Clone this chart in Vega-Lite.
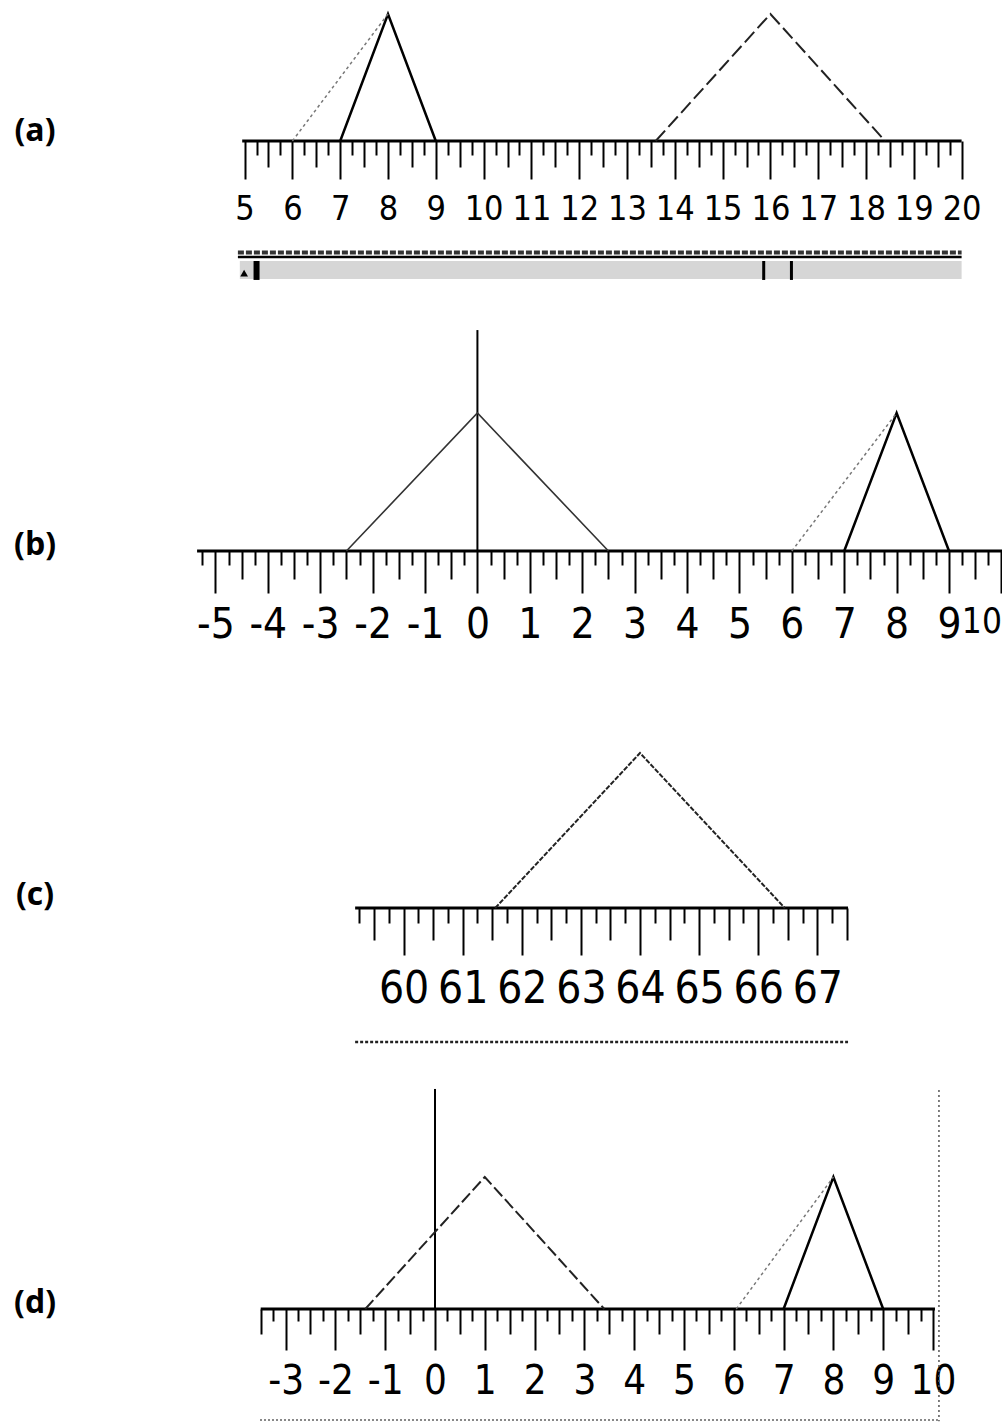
{
  "$schema": "https://vega.github.io/schema/vega-lite/v6.json",
  "padding": 0,
  "background": "white",
  "spacing": 0,
  "bounds": "flush",
  "config": {"view": {"stroke": null}, "axis": {"grid": false}},
  "resolve": {"scale": {"x": "independent", "y": "independent"}},
  "datasets": {
    "lines": [
      {"p": "a", "s": "solid", "x": 7, "y": 0}, {"p": "a", "s": "solid", "x": 8, "y": 1}, {"p": "a", "s": "solid", "x": 9, "y": 0},
      {"p": "a", "s": "dot", "x": 6, "y": 0}, {"p": "a", "s": "dot", "x": 8, "y": 1},
      {"p": "a", "s": "big", "x": 13.6, "y": 0}, {"p": "a", "s": "big", "x": 16, "y": 1}, {"p": "a", "s": "big", "x": 18.4, "y": 0},
      {"p": "b", "s": "big", "x": -2.5, "y": 0}, {"p": "b", "s": "big", "x": 0, "y": 1}, {"p": "b", "s": "big", "x": 2.5, "y": 0},
      {"p": "b", "s": "solid", "x": 7, "y": 0}, {"p": "b", "s": "solid", "x": 8, "y": 1}, {"p": "b", "s": "solid", "x": 9, "y": 0},
      {"p": "b", "s": "dot", "x": 6, "y": 0}, {"p": "b", "s": "dot", "x": 8, "y": 1},
      {"p": "c", "s": "big", "x": 61.55, "y": 0}, {"p": "c", "s": "big", "x": 64, "y": 1}, {"p": "c", "s": "big", "x": 66.45, "y": 0},
      {"p": "d", "s": "big", "x": -1.4, "y": 0}, {"p": "d", "s": "big", "x": 1, "y": 1}, {"p": "d", "s": "big", "x": 3.4, "y": 0},
      {"p": "d", "s": "solid", "x": 7, "y": 0}, {"p": "d", "s": "solid", "x": 8, "y": 1}, {"p": "d", "s": "solid", "x": 9, "y": 0},
      {"p": "d", "s": "dot", "x": 6.05, "y": 0}, {"p": "d", "s": "dot", "x": 8, "y": 1}
    ],
    "rulers": [
      {"p": "a", "x0": 4.95, "x1": 20.0, "label": "(a)"},
      {"p": "b", "x0": -5.35, "x1": 10.011, "label": "(b)"},
      {"p": "c", "x0": 59.18, "x1": 67.52, "label": "(c)"},
      {"p": "d", "x0": -3.5, "x1": 10.04, "label": "(d)"}
    ],
    "vlines": [
      {"p": "b", "x": 0, "y0": 0, "y1": 1.601},
      {"p": "d", "x": 0, "y0": 0, "y1": 1.667}
    ]
  },
  "vconcat": [
    {
      "width": 1002,
      "height": 141,
      "layer": [
        {
          "data": {"name": "rulers"},
          "transform": [{"filter": "datum.p === 'a'"}],
          "mark": {"type": "rule", "strokeWidth": 3, "color": "black"},
          "encoding": {
            "x": {"field": "x0", "type": "quantitative",
              "scale": {"domain": [-0.117, 20.845], "nice": false, "zero": false},
              "axis": {
                "values": [5,5.25,5.5,5.75,6,6.25,6.5,6.75,7,7.25,7.5,7.75,8,8.25,8.5,8.75,9,9.25,9.5,9.75,10,10.25,10.5,10.75,11,11.25,11.5,11.75,12,12.25,12.5,12.75,13,13.25,13.5,13.75,14,14.25,14.5,14.75,15,15.25,15.5,15.75,16,16.25,16.5,16.75,17,17.25,17.5,17.75,18,18.25,18.5,18.75,19,19.25,19.5,19.75,20],
                "tickCount": 1000,
                "domain": false, "title": null, "tickColor": "black", "tickWidth": 2,
                "tickSize": {"condition": [{"test": "datum.value % 1 === 0", "value": 38}, {"test": "datum.value % 0.5 === 0", "value": 26}], "value": 14},
                "labelExpr": "datum.value % 1 === 0 ? '' + datum.value : ''",
                "labelFont": "DejaVu Sans Condensed",
                "labelFontSize": 34, "labelColor": "black", "labelPadding": 13,
                "labelOverlap": false, "labelBound": false, "labelFlush": false
              }},
            "x2": {"field": "x1"},
            "y": {"datum": 0, "type": "quantitative", "scale": {"domain": [0, 1.1102], "nice": false, "zero": false}, "axis": null}
          }
        },
        {
          "data": {"name": "rulers"},
          "transform": [{"filter": "datum.p === 'a'"}],
          "mark": {"type": "rect", "color": "#d6d6d6"},
          "encoding": {"x": {"datum": 4.9, "type": "quantitative"}, "x2": {"datum": 20.0}, "y": {"datum": -0.945, "type": "quantitative"}, "y2": {"datum": -1.087}}
        },
        {
          "data": {"name": "lines"},
          "transform": [{"filter": "datum.p === 'a' && datum.s === 'solid'"}],
          "mark": {"type": "line", "color": "black", "strokeWidth": 2.5},
          "encoding": {"x": {"field": "x", "type": "quantitative"}, "y": {"field": "y", "type": "quantitative"}}
        },
        {
          "data": {"name": "lines"},
          "transform": [{"filter": "datum.p === 'a' && datum.s === 'dot'"}],
          "mark": {"type": "line", "color": "#777777", "strokeWidth": 1.5, "strokeDash": [3, 3]},
          "encoding": {"x": {"field": "x", "type": "quantitative"}, "y": {"field": "y", "type": "quantitative"}}
        },
        {
          "data": {"name": "lines"},
          "transform": [{"filter": "datum.p === 'a' && datum.s === 'big'"}],
          "mark": {"type": "line", "color": "#222222", "strokeWidth": 2, "strokeDash": [14, 5]},
          "encoding": {"x": {"field": "x", "type": "quantitative"}, "y": {"field": "y", "type": "quantitative"}}
        },
        {
          "data": {"name": "rulers"},
          "transform": [{"filter": "datum.p === 'a'"}],
          "mark": {"type": "text", "font": "Open Sans", "fontWeight": "bold", "fontSize": 32, "color": "black", "align": "center", "baseline": "middle"},
          "encoding": {"x": {"datum": 0.615, "type": "quantitative"}, "y": {"datum": 0.079, "type": "quantitative"}, "text": {"field": "label"}}
        },
        {
          "data": {"name": "rulers"},
          "transform": [{"filter": "datum.p === 'a'"}],
          "mark": {"type": "rule", "color": "#333333", "strokeWidth": 4, "strokeDash": [6, 2]},
          "encoding": {"x": {"datum": 4.86, "type": "quantitative"}, "x2": {"datum": 20.0}, "y": {"datum": -0.878, "type": "quantitative"}}
        },
        {
          "data": {"name": "rulers"},
          "transform": [{"filter": "datum.p === 'a'"}],
          "mark": {"type": "rule", "color": "black", "strokeWidth": 2.5},
          "encoding": {"x": {"datum": 4.86, "type": "quantitative"}, "x2": {"datum": 20.0}, "y": {"datum": -0.913, "type": "quantitative"}}
        },
        {
          "data": {"name": "rulers"},
          "transform": [{"filter": "datum.p === 'a'"}],
          "mark": {"type": "rule", "color": "black", "strokeWidth": 6},
          "encoding": {"x": {"datum": 5.25, "type": "quantitative"}, "y": {"datum": -0.945, "type": "quantitative"}, "y2": {"datum": -1.094}}
        },
        {
          "data": {"name": "rulers"},
          "transform": [{"filter": "datum.p === 'a'"}],
          "mark": {"type": "rule", "color": "black", "strokeWidth": 3},
          "encoding": {"x": {"datum": 15.86, "type": "quantitative"}, "y": {"datum": -0.945, "type": "quantitative"}, "y2": {"datum": -1.094}}
        },
        {
          "data": {"name": "rulers"},
          "transform": [{"filter": "datum.p === 'a'"}],
          "mark": {"type": "rule", "color": "black", "strokeWidth": 3},
          "encoding": {"x": {"datum": 16.44, "type": "quantitative"}, "y": {"datum": -0.945, "type": "quantitative"}, "y2": {"datum": -1.094}}
        },
        {
          "data": {"name": "rulers"},
          "transform": [{"filter": "datum.p === 'a'"}],
          "mark": {"type": "point", "shape": "triangle-up", "filled": true, "color": "black", "size": 60, "opacity": 1},
          "encoding": {"x": {"datum": 4.99, "type": "quantitative"}, "y": {"datum": -1.04, "type": "quantitative"}}
        }
      ]
    },
    {
      "width": 1002,
      "height": 410,
      "layer": [
        {
          "data": {"name": "rulers"},
          "transform": [{"filter": "datum.p === 'b'"}],
          "mark": {"type": "rule", "strokeWidth": 3, "color": "black"},
          "encoding": {
            "x": {"field": "x0", "type": "quantitative",
              "scale": {"domain": [-9.111, 10.011], "nice": false, "zero": false},
              "axis": {
                "values": [-5.25,-5,-4.75,-4.5,-4.25,-4,-3.75,-3.5,-3.25,-3,-2.75,-2.5,-2.25,-2,-1.75,-1.5,-1.25,-1,-0.75,-0.5,-0.25,0,0.25,0.5,0.75,1,1.25,1.5,1.75,2,2.25,2.5,2.75,3,3.25,3.5,3.75,4,4.25,4.5,4.75,5,5.25,5.5,5.75,6,6.25,6.5,6.75,7,7.25,7.5,7.75,8,8.25,8.5,8.75,9,9.25,9.5,9.75,10],
                "tickCount": 1000,
                "domain": false, "title": null, "tickColor": "black", "tickWidth": 2,
                "tickSize": {"condition": [{"test": "datum.value % 1 === 0", "value": 42}, {"test": "datum.value % 0.5 === 0", "value": 28}], "value": 14},
                "labelExpr": "datum.value % 1 === 0 ? '' + datum.value : ''",
                "labelFont": "DejaVu Sans Condensed",
                "labelFontSize": {"condition": {"test": "datum.value === 10", "value": 35}, "value": 42},
                "labelColor": "black", "labelPadding": 11,
                "labelOverlap": false, "labelBound": false, "labelFlush": 2
              }},
            "x2": {"field": "x1"},
            "y": {"datum": 0, "type": "quantitative", "scale": {"domain": [0, 2.971], "nice": false, "zero": false}, "axis": null}
          }
        },
        {
          "data": {"name": "vlines"},
          "transform": [{"filter": "datum.p === 'b'"}],
          "mark": {"type": "rule", "color": "black", "strokeWidth": 2},
          "encoding": {"x": {"field": "x", "type": "quantitative"}, "y": {"field": "y0", "type": "quantitative"}, "y2": {"field": "y1"}}
        },
        {
          "data": {"name": "lines"},
          "transform": [{"filter": "datum.p === 'b' && datum.s === 'big'"}],
          "mark": {"type": "line", "color": "#333333", "strokeWidth": 1.6},
          "encoding": {"x": {"field": "x", "type": "quantitative"}, "y": {"field": "y", "type": "quantitative"}}
        },
        {
          "data": {"name": "lines"},
          "transform": [{"filter": "datum.p === 'b' && datum.s === 'solid'"}],
          "mark": {"type": "line", "color": "black", "strokeWidth": 2.5},
          "encoding": {"x": {"field": "x", "type": "quantitative"}, "y": {"field": "y", "type": "quantitative"}}
        },
        {
          "data": {"name": "lines"},
          "transform": [{"filter": "datum.p === 'b' && datum.s === 'dot'"}],
          "mark": {"type": "line", "color": "#777777", "strokeWidth": 1.5, "strokeDash": [3, 3]},
          "encoding": {"x": {"field": "x", "type": "quantitative"}, "y": {"field": "y", "type": "quantitative"}}
        },
        {
          "data": {"name": "rulers"},
          "transform": [{"filter": "datum.p === 'b'"}],
          "mark": {"type": "text", "font": "Open Sans", "fontWeight": "bold", "fontSize": 32, "color": "black", "align": "center", "baseline": "middle"},
          "encoding": {"x": {"datum": -8.443, "type": "quantitative"}, "y": {"datum": 0.043, "type": "quantitative"}, "text": {"field": "label"}}
        }
      ]
    },
    {
      "width": 1002,
      "height": 357,
      "layer": [
        {
          "data": {"name": "rulers"},
          "transform": [{"filter": "datum.p === 'c'"}],
          "mark": {"type": "rule", "strokeWidth": 3, "color": "black"},
          "encoding": {
            "x": {"field": "x0", "type": "quantitative",
              "scale": {"domain": [53.171, 70.125], "nice": false, "zero": false},
              "axis": {
                "values": [59.25,59.5,59.75,60,60.25,60.5,60.75,61,61.25,61.5,61.75,62,62.25,62.5,62.75,63,63.25,63.5,63.75,64,64.25,64.5,64.75,65,65.25,65.5,65.75,66,66.25,66.5,66.75,67,67.25,67.5],
                "tickCount": 1000,
                "domain": false, "title": null, "tickColor": "black", "tickWidth": 2,
                "tickSize": {"condition": [{"test": "datum.value % 1 === 0", "value": 47}, {"test": "datum.value % 0.5 === 0", "value": 32}], "value": 15},
                "labelExpr": "datum.value % 1 === 0 ? '' + datum.value : ''",
                "labelFont": "DejaVu Sans Condensed",
                "labelFontSize": 44, "labelColor": "black", "labelPadding": 12,
                "labelOverlap": false, "labelBound": false, "labelFlush": false
              }},
            "x2": {"field": "x1"},
            "y": {"datum": 0, "type": "quantitative", "scale": {"domain": [0, 2.303], "nice": false, "zero": false}, "axis": null}
          }
        },
        {
          "data": {"name": "lines"},
          "transform": [{"filter": "datum.p === 'c' && datum.s === 'big'"}],
          "mark": {"type": "line", "color": "#222222", "strokeWidth": 2, "strokeDash": [5, 1.5]},
          "encoding": {"x": {"field": "x", "type": "quantitative"}, "y": {"field": "y", "type": "quantitative"}}
        },
        {
          "data": {"name": "rulers"},
          "transform": [{"filter": "datum.p === 'c'"}],
          "mark": {"type": "rule", "color": "#222222", "strokeWidth": 2.5, "strokeDash": [3, 2]},
          "encoding": {"x": {"datum": 59.18, "type": "quantitative"}, "x2": {"datum": 67.52}, "y": {"datum": -0.865, "type": "quantitative"}}
        },
        {
          "data": {"name": "rulers"},
          "transform": [{"filter": "datum.p === 'c'"}],
          "mark": {"type": "text", "font": "Open Sans", "fontWeight": "bold", "fontSize": 32, "color": "black", "align": "center", "baseline": "middle"},
          "encoding": {"x": {"datum": 53.763, "type": "quantitative"}, "y": {"datum": 0.084, "type": "quantitative"}, "text": {"field": "label"}}
        }
      ]
    },
    {
      "width": 1002,
      "height": 401,
      "layer": [
        {
          "data": {"name": "rulers"},
          "transform": [{"filter": "datum.p === 'd'"}],
          "mark": {"type": "rule", "strokeWidth": 3, "color": "black"},
          "encoding": {
            "x": {"field": "x0", "type": "quantitative",
              "scale": {"domain": [-8.735, 11.386], "nice": false, "zero": false},
              "axis": {
                "values": [-3.5,-3.25,-3,-2.75,-2.5,-2.25,-2,-1.75,-1.5,-1.25,-1,-0.75,-0.5,-0.25,0,0.25,0.5,0.75,1,1.25,1.5,1.75,2,2.25,2.5,2.75,3,3.25,3.5,3.75,4,4.25,4.5,4.75,5,5.25,5.5,5.75,6,6.25,6.5,6.75,7,7.25,7.5,7.75,8,8.25,8.5,8.75,9,9.25,9.5,9.75,10],
                "tickCount": 1000,
                "domain": false, "title": null, "tickColor": "black", "tickWidth": 2,
                "tickSize": {"condition": [{"test": "datum.value % 1 === 0", "value": 41}, {"test": "datum.value % 0.5 === 0", "value": 25}], "value": 12},
                "labelExpr": "datum.value % 1 === 0 ? '' + datum.value : ''",
                "labelFont": "DejaVu Sans Condensed",
                "labelFontSize": 40, "labelColor": "black", "labelPadding": 11,
                "labelOverlap": false, "labelBound": false, "labelFlush": false
              }},
            "x2": {"field": "x1"},
            "y": {"datum": 0, "type": "quantitative", "scale": {"domain": [0, 3.038], "nice": false, "zero": false}, "axis": null}
          }
        },
        {
          "data": {"name": "vlines"},
          "transform": [{"filter": "datum.p === 'd'"}],
          "mark": {"type": "rule", "color": "black", "strokeWidth": 2},
          "encoding": {"x": {"field": "x", "type": "quantitative"}, "y": {"field": "y0", "type": "quantitative"}, "y2": {"field": "y1"}}
        },
        {
          "data": {"name": "lines"},
          "transform": [{"filter": "datum.p === 'd' && datum.s === 'big'"}],
          "mark": {"type": "line", "color": "#222222", "strokeWidth": 2, "strokeDash": [12, 4]},
          "encoding": {"x": {"field": "x", "type": "quantitative"}, "y": {"field": "y", "type": "quantitative"}}
        },
        {
          "data": {"name": "lines"},
          "transform": [{"filter": "datum.p === 'd' && datum.s === 'solid'"}],
          "mark": {"type": "line", "color": "black", "strokeWidth": 2.5},
          "encoding": {"x": {"field": "x", "type": "quantitative"}, "y": {"field": "y", "type": "quantitative"}}
        },
        {
          "data": {"name": "lines"},
          "transform": [{"filter": "datum.p === 'd' && datum.s === 'dot'"}],
          "mark": {"type": "line", "color": "#777777", "strokeWidth": 1.5, "strokeDash": [3, 3]},
          "encoding": {"x": {"field": "x", "type": "quantitative"}, "y": {"field": "y", "type": "quantitative"}}
        },
        {
          "data": {"name": "rulers"},
          "transform": [{"filter": "datum.p === 'd'"}],
          "mark": {"type": "rule", "color": "#555555", "strokeWidth": 1.5, "strokeDash": [2, 3]},
          "encoding": {"x": {"datum": 10.12, "type": "quantitative"}, "y": {"datum": 1.659, "type": "quantitative"}, "y2": {"datum": -0.85}}
        },
        {
          "data": {"name": "rulers"},
          "transform": [{"filter": "datum.p === 'd'"}],
          "mark": {"type": "rule", "color": "#888888", "strokeWidth": 2, "strokeDash": [2, 2]},
          "encoding": {"x": {"datum": -3.514, "type": "quantitative"}, "x2": {"datum": 10.1}, "y": {"datum": -0.841, "type": "quantitative"}}
        },
        {
          "data": {"name": "rulers"},
          "transform": [{"filter": "datum.p === 'd'"}],
          "mark": {"type": "text", "font": "Open Sans", "fontWeight": "bold", "fontSize": 32, "color": "black", "align": "center", "baseline": "middle"},
          "encoding": {"x": {"datum": -8.032, "type": "quantitative"}, "y": {"datum": 0.045, "type": "quantitative"}, "text": {"field": "label"}}
        }
      ]
    }
  ]
}
